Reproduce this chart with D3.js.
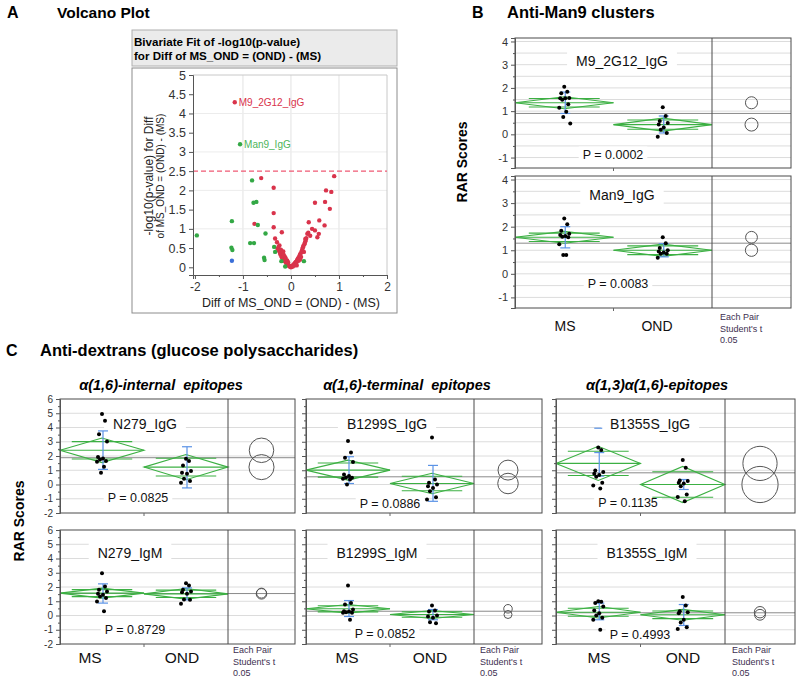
<!DOCTYPE html>
<html><head><meta charset="utf-8">
<script src="https://cdn.jsdelivr.net/npm/d3@7"></script>
<style>body{margin:0;background:#fff} svg{display:block} text{font-family:"Liberation Sans",Arial,Helvetica,sans-serif}</style>
</head><body><svg id="c" width="800" height="679"></svg>
<script>
// ---------------- DATA ----------------
// Volcano plot: [diff, -log10(p)]
const volcanoRed = [
 [-1.17,4.29],[-0.62,2.32],[-0.36,2.07],[-0.36,1.41],[-0.76,1.13],[-0.36,1.04],[-0.19,0.91],[-0.33,0.75],
 [-0.29,0.65],[-0.24,0.57],[-0.28,0.48],[-0.25,0.43],[-0.23,0.38],[-0.22,0.33],[-0.2,0.3],[-0.19,0.26],
 [-0.17,0.22],[-0.15,0.2],[-0.14,0.17],[-0.12,0.15],[-0.1,0.12],[-0.09,0.1],[-0.07,0.08],[-0.06,0.06],
 [-0.05,0.05],[-0.04,0.04],[-0.03,0.03],[-0.02,0.02],[-0.01,0.01],[-0.26,0.53],[-0.21,0.46],[-0.18,0.36],
 [-0.16,0.41],[-0.13,0.28],[-0.11,0.24],[-0.08,0.18],[-0.06,0.13],[-0.15,0.32],
 [0.0,0.0],[0.01,0.01],[0.02,0.03],[0.03,0.04],[0.05,0.06],[0.06,0.08],[0.08,0.1],[0.09,0.12],[0.1,0.14],
 [0.12,0.16],[0.13,0.19],[0.14,0.21],[0.15,0.24],[0.17,0.27],[0.18,0.3],[0.19,0.33],[0.2,0.36],[0.22,0.4],
 [0.23,0.44],[0.24,0.48],[0.25,0.52],[0.26,0.56],[0.28,0.6],[0.29,0.64],[0.3,0.68],[0.31,0.72],[0.32,0.76],
 [0.04,0.02],[0.07,0.05],[0.11,0.09],[0.16,0.17],[0.21,0.27],[0.27,0.4],[0.12,0.05],[0.19,0.2],
 [0.34,0.87],[0.3,0.74],[0.37,1.17],[0.44,1.0],[0.5,0.96],[0.58,0.87],[0.55,0.78],[0.59,1.22],[0.7,1.09],
 [0.5,1.68],[0.71,1.7],[0.73,2.0],[0.84,1.96],[0.81,1.52],[0.9,2.37],[0.4,0.82],[0.36,0.9]
];
const volcanoGreen = [
 [-1.96,0.83],[-1.23,1.2],[-1.24,0.51],[-1.22,0.45],[-0.81,2.26],[-0.78,1.68],[-0.72,1.7],[-0.69,1.1],
 [-0.85,0.63],[-0.77,0.63],[-0.53,0.88],[-0.56,0.25],[-0.55,0.19],[-0.35,0.53],[-0.33,0.4],[-0.2,0.16],
 [-0.12,0.02],[0.27,0.16],[-1.06,3.2]
];
const volcanoBlue = [[-1.23,0.17]];
const volcanoLabelText = ["M9_2G12_IgG","Man9_IgG"];
const volcanoLabelAt = [[-1.17,4.29],[-1.06,3.2]];
const volcanoThreshold = 2.5;
const volcanoXTicks = [-2,-1,0,1,2];
const volcanoYTicks = [0,0.5,1,1.5,2,2.5,3,3.5,4,4.5,5];

// One-way panels (order: B top, B bottom, C col1 top/bottom, col2 top/bottom, col3 top/bottom)
const groupNames = ["MS","OND"];
const assayNames = ["M9_2G12_IgG","Man9_IgG","N279_IgG","N279_IgM","B1299S_IgG","B1299S_IgM","B1355S_IgG","B1355S_IgM"];
const pValues = ["0.0002","0.0083","0.0825","0.8729","0.0886","0.0852","0.1135","0.4993"];
const msValues = [
 [2.05,1.83,1.77,1.57,1.56,1.56,1.49,1.3,1.15,0.97,0.75,0.47],
 [2.35,2.1,1.83,1.7,1.65,1.6,1.57,1.55,1.25,0.8,0.8],
 [4.94,4.47,3.53,3.01,1.93,1.82,1.76,1.65,1.6,1.25,0.82],
 [2.97,2.04,1.8,1.69,1.52,1.45,1.33,1.22,0.98,0.3],
 [3.06,2.24,1.88,1.58,0.7,0.59,0.5,0.47,0.4,0.35,0.0],
 [2.1,0.87,0.77,0.42,0.3,0.28,0.23,0.19,0.19,-0.3],
 [2.59,2.42,0.99,0.87,0.75,0.66,0.54,0.12,-0.07,-0.28],
 [1.0,0.96,0.87,0.63,0.35,0.16,0.0,-0.16,-0.3,-1.0]
];
const ondValues = [
 [1.17,0.79,0.57,0.49,0.42,0.3,0.2,0.06,-0.1],
 [1.55,1.3,1.1,1.0,0.95,0.9,0.85,0.85,0.68],
 [1.81,1.65,1.34,0.94,0.82,0.75,0.4,0.24,0.12],
 [2.27,2.1,1.8,1.69,1.64,1.52,1.12,1.1,0.82],
 [3.29,0.35,0.12,0.0,-0.12,-0.24,-0.47,-0.89,-1.06],
 [0.7,0.35,0.28,0.0,-0.07,-0.16,-0.47,-0.54],
 [1.72,1.18,0.28,0.24,0.12,0.07,-0.12,-0.71,-0.87,-1.18],
 [1.29,0.7,0.3,0.23,0.16,-0.3,-0.49,-0.82,-0.94]
];
const msMean   = [1.36,1.55,2.4,1.57,1.01,0.47,1.48,0.23];
const msCI     = [0.26,0.25,0.86,0.35,0.7,0.3,1.2,0.4];
const ondMean  = [0.42,1.0,1.22,1.52,0.07,0.07,0.0,0.05];
const ondCI    = [0.28,0.26,0.88,0.37,0.72,0.28,1.27,0.38];
const grandMean= [0.9,1.3,1.88,1.54,0.54,0.3,0.82,0.19];
const msErr    = [[1.82,0.9],[2.0,1.1],[3.76,1.06],[2.22,0.87],[1.95,0.07],[1.05,-0.07],[2.24,0.59],[0.87,-0.3]];
const ondErr   = [[0.79,0.06],[1.28,0.72],[2.65,-0.24],[1.94,1.1],[1.34,-1.18],[0.42,-0.3],[0.35,-0.35],[0.77,-0.7]];
const msSdDash = [null,null,null,null,null,null,3.95,null];
const ticksB = [-1,0,1,2,3,4];
const ticksC = [-2,-1,0,1,2,3,4,5,6];
const columnTitles = ["\u03b1(1,6)-internal\u00a0 epitopes","\u03b1(1,6)-terminal\u00a0 epitopes","\u03b1(1,3)\u03b1(1,6)-epitopes"];
const compareText = ["Each Pair","Student's t","0.05"];

// ---------------- DRAW ----------------
const svg = d3.select("#c");
const RED="#d9334b", GREEN="#33a845", BLUE="#3a6fd8", DIA="#3cb043", SD="#5b93e6";

function text(x,y,s,o={}){
  const t = svg.append("text").attr("x",x).attr("y",y).text(s)
    .attr("font-size",o.size||12).attr("fill",o.fill||"#000")
    .attr("text-anchor",o.anchor||"start");
  if(o.bold) t.attr("font-weight","bold");
  if(o.italic) t.attr("font-style","italic");
  if(o.rotate) t.attr("transform",`rotate(-90,${x},${y})`);
  return t;
}

// titles
text(7,18,"A",{size:16,bold:true});
text(57,18,"Volcano Plot",{size:15.5,bold:true});
text(472,18,"B",{size:16,bold:true});
text(507,18,"Anti-Man9 clusters",{size:16.5,bold:true});
text(6,356,"C",{size:16,bold:true});
text(40,356,"Anti-dextrans (glucose polysaccharides)",{size:16.5,bold:true});

// ---- Volcano ----
svg.append("rect").attr("x",132).attr("y",30).attr("width",265).attr("height",36)
  .attr("fill","#ebebeb").attr("stroke","#b0b0b0");
text(134,46,"Bivariate Fit of -log10(p-value)",{size:11.6,bold:true});
text(134,60,"for Diff of MS_OND = (OND) - (MS)",{size:11.6,bold:true});
svg.append("rect").attr("x",132).attr("y",68).attr("width",265).attr("height",245)
  .attr("fill","none").attr("stroke","#8c8c8c");

const vx = d3.scaleLinear().domain([-2.04,2]).range([193,387]);
const vy = d3.scaleLinear().domain([-0.2,5]).range([275,75]);
const vg = svg.append("g");
[-1,0,1].forEach(d=>vg.append("line").attr("x1",vx(d)).attr("x2",vx(d)).attr("y1",75).attr("y2",275).attr("stroke","#e2e2e2"));
[1,2,3,4].forEach(d=>vg.append("line").attr("x1",193).attr("x2",387).attr("y1",vy(d)).attr("y2",vy(d)).attr("stroke","#ececec"));
vg.append("line").attr("x1",193).attr("x2",387).attr("y1",75).attr("y2",75).attr("stroke","#c8c8c8");
vg.append("line").attr("x1",387).attr("x2",387).attr("y1",75).attr("y2",275).attr("stroke","#c8c8c8");
vg.append("line").attr("x1",193).attr("x2",387).attr("y1",vy(volcanoThreshold)).attr("y2",vy(volcanoThreshold))
  .attr("stroke","#ef5a74").attr("stroke-width",1.2).attr("stroke-dasharray","5,3");

const yAx = svg.append("g").attr("transform","translate(193,0)")
  .call(d3.axisLeft(vy).tickValues(volcanoYTicks).tickSize(4).tickFormat(d=>String(d)));
const xAx = svg.append("g").attr("transform","translate(0,275)")
  .call(d3.axisBottom(vx).tickValues(volcanoXTicks).tickSize(4).tickFormat(d=>String(d)));
svg.append("g").attr("transform","translate(0,275)")
  .call(d3.axisBottom(vx).tickValues([-1.5,-0.5,0.5,1.5]).tickSize(2).tickFormat(""))
  .select(".domain").remove();
[yAx,xAx].forEach(a=>{a.selectAll("text").attr("font-size",12.5).attr("fill","#333").attr("font-family",'"Liberation Sans",Arial,sans-serif');
  a.selectAll("line,path").attr("stroke","#555");});
xAx.selectAll("text").attr("font-size",12);

vg.selectAll(".r").data(volcanoRed).join("circle").attr("cx",d=>vx(d[0])).attr("cy",d=>vy(d[1])).attr("r",2.2).attr("fill",RED);
vg.selectAll(".g").data(volcanoGreen).join("circle").attr("cx",d=>vx(d[0])).attr("cy",d=>vy(d[1])).attr("r",2.2).attr("fill",GREEN);
vg.selectAll(".b").data(volcanoBlue).join("circle").attr("cx",d=>vx(d[0])).attr("cy",d=>vy(d[1])).attr("r",2.2).attr("fill",BLUE);
text(vx(volcanoLabelAt[0][0])+4, vy(volcanoLabelAt[0][1])+3.5, volcanoLabelText[0],{size:10,fill:RED});
text(vx(volcanoLabelAt[1][0])+4, vy(volcanoLabelAt[1][1])+3.5, volcanoLabelText[1],{size:10,fill:"#4db55a"});

text(153,176,"-log10(p-value) for Diff",{size:12,anchor:"middle",rotate:true,fill:"#222"});
text(163.5,176,"of MS_OND = (OND) - (MS)",{size:10,anchor:"middle",rotate:true,fill:"#222"});
text(291,307,"Diff of MS_OND = (OND) - (MS)",{size:12.5,anchor:"middle",fill:"#222"});

// ---- One-way panels ----
const layouts = [
 {x0:515,xd:712,x1:791,y0:38,y1:168,dom:[-1.45,4.15],grid:0.5,ticks:ticksB,lab:true,name:[622,61],p:[613,154]},
 {x0:515,xd:712,x1:791,y0:176,y1:308,dom:[-1.45,4.15],grid:0.5,ticks:ticksB,lab:true,name:[622,195],p:[618,283]},
 {x0:60,xd:228,x1:295,y0:399,y1:513,dom:[-2,6],grid:1,ticks:ticksC,lab:true,name:[145,424],p:[138,497]},
 {x0:60,xd:228,x1:295,y0:530,y1:644,dom:[-2,6],grid:1,ticks:ticksC,lab:true,name:[130,553],p:[135,629]},
 {x0:306,xd:474,x1:542,y0:399,y1:513,dom:[-2,6],grid:1,ticks:ticksC,lab:false,name:[387,424],p:[390,503]},
 {x0:306,xd:474,x1:542,y0:530,y1:644,dom:[-2,6],grid:1,ticks:ticksC,lab:false,name:[377,553],p:[385,633]},
 {x0:556,xd:725,x1:795,y0:399,y1:513,dom:[-2,6],grid:1,ticks:ticksC,lab:false,name:[650,424],p:[628,502]},
 {x0:556,xd:725,x1:795,y0:530,y1:644,dom:[-2,6],grid:1,ticks:ticksC,lab:false,name:[647,553],p:[640,634]}
];
const jitterPattern = [0,3,-3,5,-4,1,-2,4,-5,2,-1,6];

layouts.forEach((L,i)=>{
  const y = d3.scaleLinear().domain(L.dom).range([L.y1,L.y0]);
  const g = svg.append("g");
  const gridVals = d3.range(Math.ceil(L.dom[0]/L.grid)*L.grid, L.dom[1]+1e-9, L.grid).filter(v=>y(v)>L.y0+1 && y(v)<L.y1-1);
  gridVals.forEach(v=>g.append("line").attr("x1",L.x0).attr("x2",L.x1).attr("y1",y(v)).attr("y2",y(v)).attr("stroke","#dcdcdc"));
  const nameT = text(L.name[0],L.name[1]+5,assayNames[i],{size:14,anchor:"middle",fill:"#111"});
  const pT = text(L.p[0],L.p[1]+4.5,"P = "+pValues[i],{size:12.5,anchor:"middle",fill:"#111"});
  [nameT,pT].forEach((t,k)=>{
    const w = t.node().getComputedTextLength();
    const cy = k===0?L.name[1]:L.p[1];
    const h = k===0?20:15;
    g.append("rect").attr("x",(k===0?L.name[0]:L.p[0])-w/2-(k===0?9:4)).attr("y",cy-h/2)
      .attr("width",w+(k===0?18:8)).attr("height",h).attr("fill","#fff");
  });
  g.append("line").attr("x1",L.x0).attr("x2",L.x1).attr("y1",y(grandMean[i])).attr("y2",y(grandMean[i])).attr("stroke","#8a8a8a");
  const half = (L.xd-L.x0)/2;
  const means=[msMean[i],ondMean[i]], cis=[msCI[i],ondCI[i]], errs=[msErr[i],ondErr[i]], vals=[msValues[i],ondValues[i]];
  means.forEach((m,k)=>{
    const xl = L.x0+k*half, xr = xl+half, xc=(xl+xr)/2, ci=cis[k];
    g.append("polygon").attr("points",[[xl,y(m)],[xc,y(m+ci)],[xr,y(m)],[xc,y(m-ci)]].map(p=>p.join(",")).join(" "))
      .attr("fill","none").attr("stroke",DIA).attr("stroke-width",1.1);
    g.append("line").attr("x1",xl).attr("x2",xr).attr("y1",y(m)).attr("y2",y(m)).attr("stroke",DIA).attr("stroke-width",1.1);
    const om = ci/Math.SQRT2, ow = half*0.36;
    [m+om,m-om].forEach(v=>g.append("line").attr("x1",xc-ow).attr("x2",xc+ow).attr("y1",y(v)).attr("y2",y(v)).attr("stroke",DIA).attr("stroke-width",1.1));
    const e=errs[k];
    g.append("line").attr("x1",xc+1).attr("x2",xc+1).attr("y1",y(e[0])).attr("y2",y(e[1])).attr("stroke",SD).attr("stroke-width",1.2);
    e.forEach(v=>g.append("line").attr("x1",xc-4).attr("x2",xc+6).attr("y1",y(v)).attr("y2",y(v)).attr("stroke",SD).attr("stroke-width",1.2));
    if(k===0 && msSdDash[i]!==null){
      g.append("line").attr("x1",xc-4).attr("x2",xc+4).attr("y1",y(msSdDash[i])).attr("y2",y(msSdDash[i])).attr("stroke",SD).attr("stroke-width",1.2);
    }
    g.selectAll(null).data(vals[k]).join("circle")
      .attr("cx",(d,j)=>xc+jitterPattern[j%jitterPattern.length]).attr("cy",d=>y(d)).attr("r",2).attr("fill","#000");
    g.append("circle").attr("cx",(L.xd+L.x1)/2).attr("cy",y(m)).attr("r",y(0)-y(ci))
      .attr("fill","none").attr("stroke","#555").attr("stroke-width",1);
  });
  nameT.raise(); pT.raise();
  g.append("rect").attr("x",L.x0).attr("y",L.y0).attr("width",L.x1-L.x0).attr("height",L.y1-L.y0).attr("fill","none").attr("stroke","#4a4a4a");
  g.append("line").attr("x1",L.xd).attr("x2",L.xd).attr("y1",L.y0).attr("y2",L.y1).attr("stroke","#4a4a4a");
  g.append("line").attr("x1",L.x0+half).attr("x2",L.x0+half).attr("y1",L.y1).attr("y2",L.y1+3).attr("stroke","#666");
  const ax = svg.append("g").attr("transform",`translate(${L.x0},0)`)
    .call(d3.axisLeft(y).tickValues(L.ticks).tickSize(4).tickFormat(L.lab?(d=>String(d)):""));
  const minor = d3.range(L.dom[0]<-1.5?-1.5:-0.5, L.dom[1], 1).filter(v=>v>L.dom[0]&&v<L.dom[1]);
  svg.append("g").attr("transform",`translate(${L.x0},0)`)
    .call(d3.axisLeft(y).tickValues(minor).tickSize(2).tickFormat("")).select(".domain").remove();
  ax.selectAll("text").attr("font-size",L.grid===0.5?11:10).attr("fill","#333").attr("font-family",'"Liberation Sans",Arial,sans-serif');
  svg.selectAll("g.tick line").attr("stroke","#555");
  ax.select(".domain").attr("stroke","#555");
});

const groupLabelX = [[565,657],[90,182],[347,430],[599,683]];
const groupLabelY = [331,663,663,663];
const compareX = [720,233,480,732];
const compareY = [320,653,653,653];
groupLabelX.forEach((xs,c)=>{
  xs.forEach((x,k)=>text(x,groupLabelY[c],groupNames[k],{size:c===0?14:15.5,anchor:"middle",fill:"#111"}));
  compareText.forEach((s,k)=>text(compareX[c],compareY[c]+k*11.5,s,{size:9,fill:"#3d2f4f"}));
});

text(467,162,"RAR Scores",{size:14,bold:true,anchor:"middle",rotate:true});
text(24,521,"RAR Scores",{size:14,bold:true,anchor:"middle",rotate:true});

[161,407,657].forEach((x,k)=>text(x,390,columnTitles[k],{size:14.5,bold:true,italic:true,anchor:"middle"}));
</script></body></html>
